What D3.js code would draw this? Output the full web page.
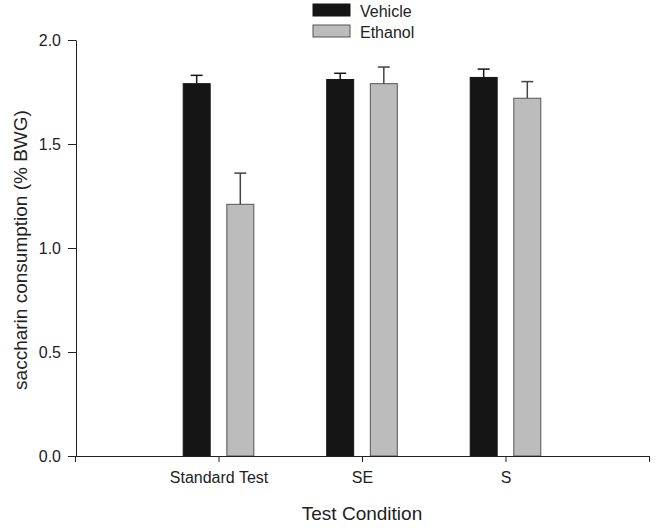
<!DOCTYPE html>
<html>
<head>
<meta charset="utf-8">
<script src="https://cdn.jsdelivr.net/npm/d3@7"></script>
<style>
  body { margin: 0; background: #fff; }
  svg { font-family: "Liberation Sans", Arial, sans-serif; }
</style>
</head>
<body>
<div id="chart"></div>
<script>
const categories = ["Standard Test", "SE", "S"];
const vehicle = [1.79, 1.81, 1.82];
const vehicleErr = [0.04, 0.03, 0.04];
const ethanol = [1.21, 1.79, 1.72];
const ethanolErr = [0.15, 0.08, 0.08];
const yTicks = [0, 0.5, 1.0, 1.5, 2.0];

const width = 657, height = 529;
const svg = d3.select("#chart").append("svg")
  .attr("width", width).attr("height", height);

// x is a linear position scale: categories sit at 1, 2, 3
const x = d3.scaleLinear().domain([0, 4]).range([75, 649]);
const y = d3.scaleLinear().domain([0, 2]).range([456, 40]);
const unit = x(1) - x(0);
const barW = 0.188 * unit;
const off = 0.152 * unit;

const series = [
  { name: "Vehicle", values: vehicle, errs: vehicleErr, fill: "#151515", stroke: "#151515", err: "#151515", dx: -off },
  { name: "Ethanol", values: ethanol, errs: ethanolErr, fill: "#bcbcbc", stroke: "#555", err: "#444", dx: off }
];

// Bars
series.forEach(s => {
  const g = svg.append("g");
  const rows = categories.map((c, i) => ({ i, v: s.values[i], e: s.errs[i] }));
  g.selectAll("rect").data(rows).join("rect")
    .attr("x", d => x(d.i + 1) + s.dx - barW / 2)
    .attr("y", d => y(d.v))
    .attr("width", barW)
    .attr("height", d => y(0) - y(d.v))
    .attr("fill", s.fill)
    .attr("stroke", s.stroke)
    .attr("stroke-width", 1);
  // upper error bars only
  g.selectAll("line.err").data(rows).join("line")
    .attr("x1", d => x(d.i + 1) + s.dx).attr("x2", d => x(d.i + 1) + s.dx)
    .attr("y1", d => y(d.v)).attr("y2", d => y(d.v + d.e))
    .attr("stroke", s.err).attr("stroke-width", 1.5);
  g.selectAll("line.cap").data(rows).join("line")
    .attr("x1", d => x(d.i + 1) + s.dx - 6).attr("x2", d => x(d.i + 1) + s.dx + 6)
    .attr("y1", d => y(d.v + d.e)).attr("y2", d => y(d.v + d.e))
    .attr("stroke", s.err).attr("stroke-width", 1.5);
});

// y axis
const yAxis = svg.append("g")
  .attr("transform", `translate(${x(0) + 1},0)`)
  .call(d3.axisLeft(y).tickValues(yTicks).tickFormat(d3.format(".1f"))
    .tickSize(8).tickPadding(7).tickSizeOuter(0));
yAxis.select(".domain").attr("stroke", "#222");
yAxis.selectAll(".tick line").attr("stroke", "#222");
yAxis.selectAll("text").attr("font-size", 16).attr("fill", "#222")
  .attr("font-family", "Liberation Sans, Arial, sans-serif");

// x axis
const xAxis = svg.append("g")
  .attr("transform", `translate(0,${y(0)})`)
  .call(d3.axisBottom(x).tickValues([0, 1, 2, 3, 4])
    .tickFormat(d => categories[d - 1] || "")
    .tickSize(6).tickPadding(10).tickSizeOuter(0));
xAxis.select(".domain").attr("stroke", "#222");
xAxis.selectAll(".tick line").attr("stroke", "#222");
xAxis.selectAll("text").attr("font-size", 16).attr("fill", "#222")
  .attr("font-family", "Liberation Sans, Arial, sans-serif");

// Axis titles
svg.append("text")
  .attr("transform", `translate(27,${(y(0) + y(2)) / 2 + 2}) rotate(-90)`)
  .attr("text-anchor", "middle")
  .attr("font-size", 19).attr("fill", "#222")
  .text("saccharin consumption (% BWG)");

svg.append("text")
  .attr("x", x(2)).attr("y", 520)
  .attr("text-anchor", "middle")
  .attr("font-size", 19).attr("fill", "#222")
  .text("Test Condition");

// Legend
const legend = svg.append("g").attr("transform", "translate(313,4)");
series.forEach((s, i) => {
  legend.append("rect")
    .attr("x", 0).attr("y", i * 21)
    .attr("width", 37).attr("height", 12)
    .attr("fill", s.fill).attr("stroke", s.stroke);
  legend.append("text")
    .attr("x", 47).attr("y", i * 21 + 12.5)
    .attr("font-size", 16).attr("fill", "#222")
    .text(s.name);
});
</script>
</body>
</html>
